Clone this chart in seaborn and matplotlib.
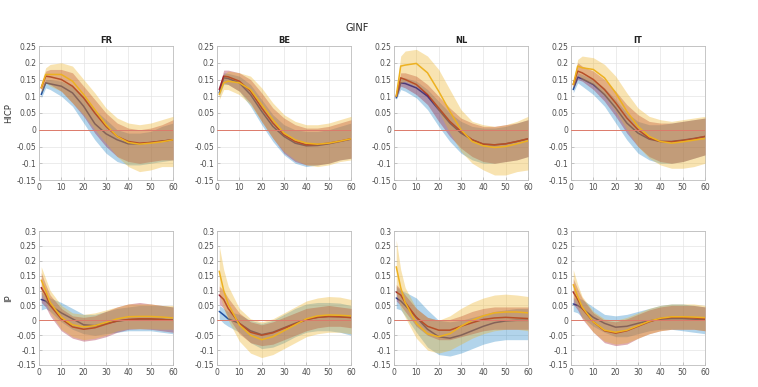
import matplotlib
matplotlib.use("Agg")
import matplotlib.pyplot as plt
import numpy as np
import pandas as pd
import seaborn as sns
from matplotlib.ticker import FuncFormatter, MultipleLocator

# ---------------- data ----------------
horizon = [1, 3, 5, 10, 15, 20, 25, 30, 35, 40, 45, 50, 55, 60]
countries = ["FR", "BE", "NL", "IT"]
variables = ["HICP", "IP"]
series_names = ["blue", "red", "yellow"]

# HICP ---------------------------------------------------------------
HICP_FR_blue_mid = [0.105, 0.14, 0.137, 0.13, 0.11, 0.07, 0.018, -0.012, -0.03, -0.042, -0.042, -0.038, -0.034, -0.03]
HICP_FR_blue_lo = [0.095, 0.125, 0.12, 0.1, 0.07, 0.02, -0.03, -0.07, -0.095, -0.105, -0.105, -0.1, -0.095, -0.09]
HICP_FR_blue_hi = [0.115, 0.15, 0.15, 0.145, 0.13, 0.10, 0.06, 0.03, 0.0, -0.01, -0.01, -0.005, 0.01, 0.02]
HICP_FR_red_mid = [0.125, 0.16, 0.158, 0.15, 0.13, 0.095, 0.05, 0.01, -0.02, -0.035, -0.04, -0.038, -0.034, -0.03]
HICP_FR_red_lo = [0.115, 0.14, 0.135, 0.115, 0.08, 0.04, -0.01, -0.05, -0.08, -0.095, -0.1, -0.095, -0.09, -0.09]
HICP_FR_red_hi = [0.135, 0.175, 0.18, 0.18, 0.17, 0.13, 0.09, 0.05, 0.02, 0.005, 0.0, 0.005, 0.015, 0.03]
HICP_FR_yellow_mid = [0.125, 0.165, 0.165, 0.165, 0.145, 0.105, 0.06, 0.015, -0.02, -0.038, -0.043, -0.04, -0.036, -0.03]
HICP_FR_yellow_lo = [0.11, 0.14, 0.13, 0.115, 0.08, 0.045, 0.0, -0.04, -0.08, -0.11, -0.125, -0.12, -0.11, -0.11]
HICP_FR_yellow_hi = [0.14, 0.185, 0.195, 0.2, 0.19, 0.15, 0.11, 0.065, 0.035, 0.02, 0.015, 0.02, 0.03, 0.04]

HICP_BE_blue_mid = [0.11, 0.155, 0.153, 0.14, 0.105, 0.055, 0.01, -0.02, -0.04, -0.048, -0.047, -0.042, -0.035, -0.028]
HICP_BE_blue_lo = [0.1, 0.135, 0.135, 0.115, 0.07, 0.015, -0.035, -0.075, -0.1, -0.11, -0.105, -0.1, -0.09, -0.085]
HICP_BE_blue_hi = [0.12, 0.17, 0.168, 0.16, 0.135, 0.09, 0.045, 0.015, 0.0, -0.005, -0.005, 0.0, 0.01, 0.02]
HICP_BE_red_mid = [0.12, 0.16, 0.158, 0.145, 0.115, 0.065, 0.02, -0.015, -0.035, -0.045, -0.044, -0.04, -0.034, -0.027]
HICP_BE_red_lo = [0.11, 0.14, 0.135, 0.115, 0.08, 0.025, -0.025, -0.07, -0.095, -0.105, -0.105, -0.1, -0.09, -0.085]
HICP_BE_red_hi = [0.13, 0.178, 0.178, 0.17, 0.15, 0.11, 0.065, 0.035, 0.015, 0.005, 0.005, 0.01, 0.02, 0.03]
HICP_BE_yellow_mid = [0.105, 0.14, 0.145, 0.14, 0.12, 0.075, 0.03, -0.01, -0.03, -0.04, -0.043, -0.04, -0.034, -0.027]
HICP_BE_yellow_lo = [0.09, 0.12, 0.12, 0.105, 0.075, 0.025, -0.025, -0.065, -0.09, -0.105, -0.11, -0.105, -0.095, -0.09]
HICP_BE_yellow_hi = [0.115, 0.165, 0.175, 0.17, 0.16, 0.125, 0.08, 0.045, 0.025, 0.015, 0.015, 0.02, 0.03, 0.04]

HICP_NL_blue_mid = [0.095, 0.14, 0.138, 0.125, 0.1, 0.06, 0.02, -0.01, -0.03, -0.043, -0.045, -0.042, -0.035, -0.027]
HICP_NL_blue_lo = [0.09, 0.12, 0.115, 0.095, 0.06, 0.01, -0.035, -0.07, -0.09, -0.1, -0.1, -0.095, -0.09, -0.08]
HICP_NL_blue_hi = [0.1, 0.155, 0.155, 0.145, 0.12, 0.085, 0.05, 0.025, 0.01, 0.005, 0.005, 0.01, 0.02, 0.03]
HICP_NL_red_mid = [0.1, 0.155, 0.15, 0.135, 0.105, 0.065, 0.025, -0.005, -0.03, -0.043, -0.045, -0.042, -0.035, -0.027]
HICP_NL_red_lo = [0.095, 0.13, 0.125, 0.105, 0.075, 0.025, -0.02, -0.055, -0.08, -0.095, -0.1, -0.095, -0.09, -0.08]
HICP_NL_red_hi = [0.105, 0.17, 0.17, 0.16, 0.135, 0.1, 0.065, 0.035, 0.02, 0.01, 0.01, 0.015, 0.02, 0.03]
HICP_NL_yellow_mid = [0.1, 0.19, 0.193, 0.198, 0.17, 0.115, 0.055, 0.0, -0.035, -0.048, -0.053, -0.05, -0.042, -0.033]
HICP_NL_yellow_lo = [0.095, 0.14, 0.145, 0.13, 0.105, 0.055, -0.01, -0.065, -0.1, -0.12, -0.135, -0.135, -0.125, -0.12]
HICP_NL_yellow_hi = [0.11, 0.22, 0.235, 0.24, 0.22, 0.18, 0.12, 0.06, 0.025, 0.015, 0.01, 0.015, 0.025, 0.04]

HICP_IT_blue_mid = [0.12, 0.157, 0.152, 0.135, 0.105, 0.065, 0.02, -0.01, -0.028, -0.035, -0.035, -0.031, -0.026, -0.02]
HICP_IT_blue_lo = [0.11, 0.14, 0.13, 0.105, 0.07, 0.02, -0.03, -0.07, -0.09, -0.1, -0.1, -0.095, -0.085, -0.075]
HICP_IT_blue_hi = [0.13, 0.17, 0.165, 0.15, 0.125, 0.09, 0.05, 0.025, 0.015, 0.015, 0.02, 0.025, 0.03, 0.035]
HICP_IT_red_mid = [0.135, 0.175, 0.17, 0.15, 0.12, 0.08, 0.035, 0.0, -0.025, -0.035, -0.036, -0.032, -0.027, -0.02]
HICP_IT_red_lo = [0.125, 0.15, 0.145, 0.12, 0.085, 0.04, -0.01, -0.05, -0.08, -0.095, -0.1, -0.095, -0.085, -0.075]
HICP_IT_red_hi = [0.145, 0.2, 0.19, 0.175, 0.15, 0.115, 0.075, 0.045, 0.025, 0.02, 0.02, 0.025, 0.03, 0.035]
HICP_IT_yellow_mid = [0.135, 0.19, 0.185, 0.18, 0.155, 0.11, 0.055, 0.01, -0.02, -0.035, -0.04, -0.036, -0.031, -0.026]
HICP_IT_yellow_lo = [0.125, 0.165, 0.15, 0.135, 0.1, 0.055, 0.0, -0.05, -0.085, -0.105, -0.115, -0.115, -0.11, -0.1]
HICP_IT_yellow_hi = [0.145, 0.21, 0.22, 0.215, 0.195, 0.16, 0.11, 0.065, 0.04, 0.03, 0.025, 0.03, 0.035, 0.04]

# IP -----------------------------------------------------------------
IP_FR_blue_mid = [0.07, 0.065, 0.05, 0.025, 0.005, -0.015, -0.018, -0.01, -0.003, 0.002, 0.004, 0.004, 0.003, 0.001]
IP_FR_blue_lo = [0.035, 0.04, 0.03, -0.005, -0.03, -0.045, -0.05, -0.045, -0.04, -0.035, -0.035, -0.035, -0.04, -0.045]
IP_FR_blue_hi = [0.095, 0.085, 0.075, 0.06, 0.04, 0.02, 0.02, 0.03, 0.04, 0.045, 0.05, 0.05, 0.05, 0.045]
IP_FR_red_mid = [0.11, 0.085, 0.05, 0.005, -0.022, -0.03, -0.025, -0.013, -0.002, 0.003, 0.005, 0.005, 0.003, 0.0]
IP_FR_red_lo = [0.06, 0.045, 0.015, -0.035, -0.06, -0.07, -0.065, -0.055, -0.04, -0.03, -0.028, -0.03, -0.035, -0.04]
IP_FR_red_hi = [0.16, 0.12, 0.085, 0.04, 0.015, 0.01, 0.015, 0.03, 0.045, 0.055, 0.06, 0.055, 0.05, 0.045]
IP_FR_yellow_mid = [0.135, 0.1, 0.06, 0.01, -0.015, -0.022, -0.018, -0.007, 0.005, 0.012, 0.013, 0.013, 0.011, 0.008]
IP_FR_yellow_lo = [0.09, 0.06, 0.025, -0.03, -0.055, -0.065, -0.06, -0.05, -0.035, -0.028, -0.028, -0.028, -0.03, -0.03]
IP_FR_yellow_hi = [0.18, 0.14, 0.1, 0.05, 0.025, 0.02, 0.025, 0.035, 0.045, 0.055, 0.055, 0.055, 0.05, 0.05]

IP_BE_blue_mid = [0.03, 0.018, 0.005, -0.01, -0.035, -0.048, -0.04, -0.025, -0.01, 0.003, 0.01, 0.013, 0.012, 0.01]
IP_BE_blue_lo = [0.005, -0.01, -0.02, -0.04, -0.075, -0.095, -0.09, -0.075, -0.055, -0.04, -0.035, -0.035, -0.04, -0.05]
IP_BE_blue_hi = [0.05, 0.04, 0.03, 0.02, 0.0, -0.01, 0.0, 0.02, 0.04, 0.055, 0.06, 0.06, 0.058, 0.05]
IP_BE_red_mid = [0.085, 0.07, 0.04, -0.01, -0.04, -0.05, -0.042, -0.027, -0.012, 0.002, 0.01, 0.013, 0.012, 0.009]
IP_BE_red_lo = [0.055, 0.04, 0.01, -0.045, -0.075, -0.085, -0.08, -0.065, -0.05, -0.035, -0.025, -0.02, -0.02, -0.025]
IP_BE_red_hi = [0.115, 0.1, 0.075, 0.025, -0.005, -0.015, -0.005, 0.01, 0.025, 0.04, 0.045, 0.05, 0.045, 0.04]
IP_BE_yellow_mid = [0.165, 0.1, 0.055, -0.015, -0.05, -0.065, -0.055, -0.035, -0.015, 0.005, 0.015, 0.018, 0.017, 0.015]
IP_BE_yellow_lo = [0.09, 0.04, 0.0, -0.07, -0.11, -0.125, -0.115, -0.095, -0.075, -0.055, -0.045, -0.04, -0.04, -0.045]
IP_BE_yellow_hi = [0.25, 0.17, 0.115, 0.04, 0.005, -0.005, 0.005, 0.025, 0.045, 0.065, 0.075, 0.08, 0.078, 0.07]

IP_NL_blue_mid = [0.075, 0.065, 0.05, 0.01, -0.03, -0.055, -0.06, -0.05, -0.035, -0.02, -0.008, -0.002, 0.0, 0.0]
IP_NL_blue_lo = [0.04, 0.035, 0.015, -0.04, -0.09, -0.115, -0.12, -0.11, -0.095, -0.08, -0.07, -0.065, -0.065, -0.065]
IP_NL_blue_hi = [0.115, 0.1, 0.095, 0.075, 0.035, 0.0, -0.005, 0.0, 0.01, 0.02, 0.03, 0.035, 0.04, 0.04]
IP_NL_red_mid = [0.095, 0.085, 0.06, 0.01, -0.02, -0.033, -0.033, -0.02, -0.008, 0.003, 0.008, 0.01, 0.008, 0.006]
IP_NL_red_lo = [0.065, 0.05, 0.03, -0.02, -0.05, -0.065, -0.065, -0.055, -0.045, -0.035, -0.03, -0.03, -0.03, -0.03]
IP_NL_red_hi = [0.12, 0.105, 0.085, 0.04, 0.01, 0.0, 0.003, 0.015, 0.03, 0.04, 0.045, 0.045, 0.045, 0.045]
IP_NL_yellow_mid = [0.18, 0.11, 0.06, -0.01, -0.045, -0.055, -0.045, -0.02, 0.0, 0.015, 0.025, 0.028, 0.028, 0.025]
IP_NL_yellow_lo = [0.09, 0.04, 0.01, -0.06, -0.1, -0.11, -0.1, -0.08, -0.06, -0.045, -0.035, -0.03, -0.03, -0.035]
IP_NL_yellow_hi = [0.27, 0.17, 0.11, 0.04, 0.01, 0.0, 0.015, 0.04, 0.06, 0.075, 0.085, 0.088, 0.085, 0.08]

IP_IT_blue_mid = [0.055, 0.05, 0.04, 0.01, -0.01, -0.023, -0.02, -0.01, -0.002, 0.004, 0.006, 0.006, 0.004, 0.002]
IP_IT_blue_lo = [0.03, 0.025, 0.01, -0.02, -0.04, -0.055, -0.055, -0.045, -0.035, -0.03, -0.03, -0.035, -0.04, -0.045]
IP_IT_blue_hi = [0.075, 0.075, 0.07, 0.045, 0.02, 0.015, 0.02, 0.03, 0.04, 0.05, 0.055, 0.055, 0.05, 0.045]
IP_IT_red_mid = [0.095, 0.07, 0.04, -0.005, -0.035, -0.043, -0.035, -0.02, -0.005, 0.006, 0.01, 0.01, 0.008, 0.005]
IP_IT_red_lo = [0.055, 0.035, 0.005, -0.04, -0.075, -0.085, -0.08, -0.06, -0.045, -0.035, -0.03, -0.03, -0.03, -0.035]
IP_IT_red_hi = [0.14, 0.105, 0.075, 0.025, 0.0, -0.005, 0.005, 0.02, 0.035, 0.045, 0.05, 0.05, 0.05, 0.045]
IP_IT_yellow_mid = [0.12, 0.08, 0.045, -0.005, -0.033, -0.04, -0.033, -0.018, -0.003, 0.007, 0.012, 0.012, 0.011, 0.009]
IP_IT_yellow_lo = [0.075, 0.045, 0.01, -0.04, -0.07, -0.08, -0.075, -0.06, -0.045, -0.035, -0.03, -0.03, -0.03, -0.035]
IP_IT_yellow_hi = [0.17, 0.12, 0.08, 0.03, 0.005, 0.0, 0.01, 0.025, 0.04, 0.05, 0.055, 0.055, 0.055, 0.05]

# ---------------- assemble long table ----------------
rows = []
g = globals()
for var in variables:
    for c in countries:
        for s in series_names:
            mid = g[f"{var}_{c}_{s}_mid"]
            lo = g[f"{var}_{c}_{s}_lo"]
            hi = g[f"{var}_{c}_{s}_hi"]
            for h, m, l, u in zip(horizon, mid, lo, hi):
                rows.append(dict(var=var, country=c, series=s, h=h, mid=m, lo=l, hi=u))
df = pd.DataFrame(rows)

# ---------------- styling ----------------
sns.set_theme(style="white")
plt.rcParams["font.family"] = ["DejaVu Sans"]

band_colors = {"blue": "#0072BD", "red": "#A2142F", "yellow": "#EDB120"}
band_alpha = {"blue": 0.3, "red": 0.35, "yellow": 0.35}
line_colors = {"blue": "#1f4e9e", "red": "#9b1b2c", "yellow": "#EDB120"}

fig = plt.figure(figsize=(7.58, 3.87), dpi=100)
W, Hpx = 758.0, 387.0
lefts = [39, 217, 394, 571]
row_top = {"HICP": 46, "IP": 231}
ax_w, ax_h = 134, 134
ylims = {"HICP": (-0.15, 0.25), "IP": (-0.15, 0.3)}

fmt = FuncFormatter(lambda v, p: ("%g" % round(v, 4)))

for var in variables:
    for j, c in enumerate(countries):
        top = row_top[var]
        ax = fig.add_axes([lefts[j] / W, 1 - (top + ax_h) / Hpx, ax_w / W, ax_h / Hpx])
        sub = df[(df["var"] == var) & (df["country"] == c)]
        z = 2
        for s in series_names:
            ss = sub[sub["series"] == s]
            ax.fill_between(ss["h"], ss["lo"], ss["hi"], color=band_colors[s],
                            alpha=band_alpha[s], lw=0, zorder=z)
            sns.lineplot(data=ss, x="h", y="mid", color=line_colors[s], ax=ax,
                         lw=1.1, zorder=z + 1)
            z += 2
        ax.axhline(0, color="#dd7a6a", lw=0.7, zorder=z + 1)
        ax.set_xlim(0, 60)
        ax.set_ylim(*ylims[var])
        ax.xaxis.set_major_locator(MultipleLocator(10))
        ax.yaxis.set_major_locator(MultipleLocator(0.05))
        ax.xaxis.set_major_formatter(fmt)
        ax.yaxis.set_major_formatter(fmt)
        ax.grid(True, color="#e4e4e4", lw=0.5, zorder=0)
        ax.set_axisbelow(True)
        ax.tick_params(direction="in", length=2, width=0.5, colors="#b0b0b0",
                       labelcolor="#4d4d4d", labelsize=5.5, pad=2,
                       top=False, right=False, bottom=True, left=True)
        for sp in ax.spines.values():
            sp.set_color("#bdbdbd")
            sp.set_linewidth(0.6)
        ax.set_xlabel("")
        if j == 0:
            ax.set_ylabel(var, fontsize=6, color="#333333")
            ax.yaxis.set_label_coords(-0.19, 0.5)
        else:
            ax.set_ylabel("")
        if var == "HICP":
            ax.set_title(c, fontsize=6, fontweight="bold", color="#222222", pad=2)

fig.text(357 / W, 1 - 28 / Hpx, "GINF", ha="center", va="center", fontsize=7, color="#222222")

fig.savefig("out.png", dpi=100)
